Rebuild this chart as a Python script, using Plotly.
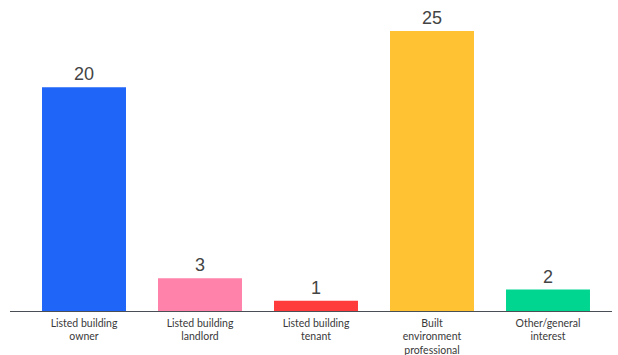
import plotly.graph_objects as go

# Respondent categories and counts
categories = [
    "Listed building<br>owner",
    "Listed building<br>landlord",
    "Listed building<br>tenant",
    "Built<br>environment<br>professional",
    "Other/general<br>interest",
]
counts = [20, 3, 1, 25, 2]
bar_colors = ["#1F65F8", "#FF82AA", "#FF3B3B", "#FFC233", "#00D68F"]

W, H = 618, 355
left, right, top, bottom = 26, 12, 10, 43

fig = go.Figure(
    go.Bar(
        x=categories,
        y=counts,
        marker=dict(color=bar_colors, line=dict(width=0)),
        text=[str(v) for v in counts],
        textposition="outside",
        textfont=dict(family="Liberation Sans, Arial, sans-serif", size=18, color="#444444"),
        cliponaxis=False,
        hoverinfo="skip",
    )
)

fig.update_layout(
    width=W,
    height=H,
    margin=dict(l=left, r=right, t=top, b=bottom, pad=0),
    paper_bgcolor="white",
    plot_bgcolor="white",
    bargap=0.276,
    showlegend=False,
    xaxis=dict(
        showgrid=False,
        showline=False,
        zeroline=False,
        ticks="",
        automargin=False,
        ticklabelstandoff=3,
        tickfont=dict(family="Lato, sans-serif", size=10.5, color="#3a3a3a"),
        fixedrange=True,
    ),
    yaxis=dict(
        range=[0, 26.87],
        showgrid=False,
        showline=False,
        zeroline=False,
        showticklabels=False,
        ticks="",
        automargin=False,
        fixedrange=True,
    ),
    shapes=[
        dict(
            type="line",
            xref="paper",
            yref="y",
            x0=-0.0276,
            x1=1.0103,
            y0=0,
            y1=0,
            line=dict(color="#4a4f55", width=2),
        )
    ],
)

fig.write_html("out.html")
